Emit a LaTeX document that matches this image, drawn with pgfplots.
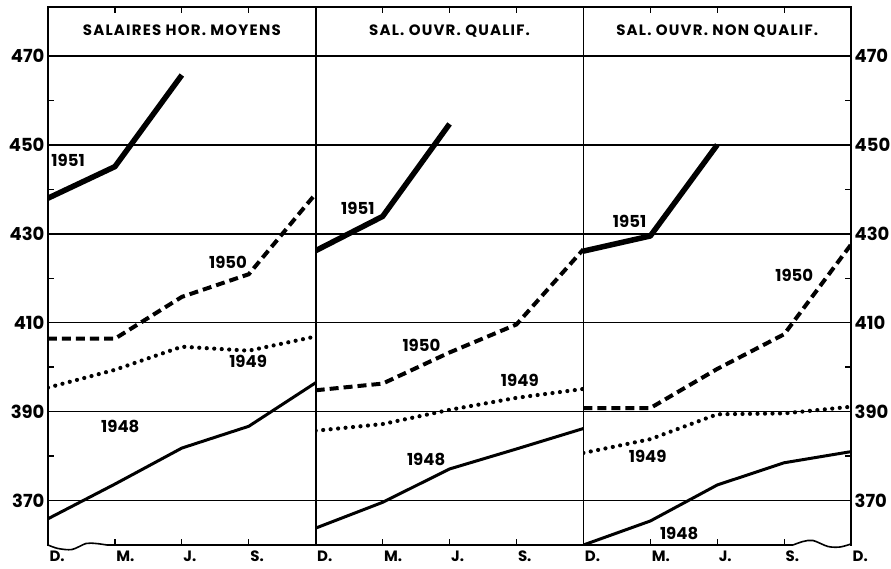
\documentclass[border=0pt]{standalone}
\usepackage{fontspec}
\setmainfont{Poppins}
\usepackage{pgfplots}
\pgfplotsset{compat=1.18}

\pgfplotsset{
  panel/.style={
    scale only axis, width=267.7pt, height=538pt,
    xmin=0, xmax=4, ymin=360, ymax=481,
    xtick={0,1,2,3,4}, xticklabels={D.,M.,J.,S.,{}},
    ytick={370,390,...,470}, ymajorgrids,
    grid style={black, line width=1.5pt},
    axis line style={line width=1.6pt},
    tick align=inside, major tick length=6pt, minor tick length=6pt,
    tick style={black, line width=1.3pt},
    /pgf/number format/assume math mode=true,
    yticklabel style={font=\bfseries\fontsize{18}{18}\selectfont},
    xticklabel style={font=\bfseries\fontsize{15}{15}\selectfont,
      anchor=north west, xshift=-2pt, yshift=-2pt},
  },
  y1951/.style={black, line width=5.5pt, line join=round},
  y1950/.style={black, line width=4pt, dash pattern=on 9pt off 5pt},
  y1949/.style={black, line width=4.2pt, line cap=round, dash pattern=on 0pt off 7.5pt},
  y1948/.style={black, line width=3pt, line join=round},
}
\newcommand{\yr}{\bfseries\fontsize{16.5}{17}\selectfont}
\newcommand{\hd}{\bfseries\fontsize{15}{15}\selectfont\addfontfeatures{LetterSpace=8}}

\begin{document}
\begin{tikzpicture}
\path[use as bounding box] (-48pt,-23pt) rectangle (843pt,545pt);

% salaires horaires moyens
\begin{axis}[panel, at={(0pt,0pt)}, anchor=south west,
  ytick pos=left, minor ytick={380,400,...,460}]
\addplot[y1951] coordinates {(0,438.0) (1,445.1) (2,465.7)};
\addplot[y1950] coordinates {(0,406.4) (1,406.4) (2,415.8) (3,420.9) (4,439.0)};
\addplot[y1949] coordinates {(0,395.4) (1,399.4) (2,404.6) (3,403.7) (4,406.9)};
\addplot[y1948] coordinates {(0,365.9) (1,373.7) (2,381.8) (3,386.7) (4,396.5)};
\node[font=\hd] at (axis cs:2,475.7) {SALAIRES HOR. MOYENS};
\node[font=\yr] at (axis cs:0.30,446.6) {1951};
\node[font=\yr] at (axis cs:2.69,423.6) {1950};
\node[font=\yr] at (axis cs:2.99,401.2) {1949};
\node[font=\yr] at (axis cs:1.08,386.7) {1948};
\end{axis}

% ouvriers qualifies
\begin{axis}[panel, at={(267.7pt,0pt)}, anchor=south west, yticklabels={}]
\addplot[y1951] coordinates {(0,426.2) (1,433.9) (2,454.7)};
\addplot[y1950] coordinates {(0,394.8) (1,396.3) (2,403.3) (3,409.6) (4,426.5)};
\addplot[y1949] coordinates {(0,385.7) (1,387.2) (2,390.4) (3,393.1) (4,395.1)};
\addplot[y1948] coordinates {(0,363.8) (1,369.6) (2,377.1) (3,381.6) (4,386.2)};
\node[font=\hd] at (axis cs:2,475.7) {SAL. OUVR. QUALIF.};
\node[font=\yr] at (axis cs:0.63,435.8) {1951};
\node[font=\yr] at (axis cs:1.58,404.8) {1950};
\node[font=\yr] at (axis cs:3.05,397.0) {1949};
\node[font=\yr] at (axis cs:1.65,379.3) {1948};
\end{axis}

% ouvriers non qualifies
\begin{axis}[panel, at={(535.4pt,0pt)}, anchor=south west,
  xticklabels={D.,M.,J.,S.,D.},
  ytick pos=right, yticklabel pos=right, minor ytick={380,400,...,460}]
\addplot[y1951] coordinates {(0,426.1) (1,429.5) (2,450.0)};
\addplot[y1950] coordinates {(0,390.8) (1,390.8) (2,399.6) (3,407.4) (4,427.6)};
\addplot[y1949] coordinates {(0,380.7) (1,383.8) (2,389.4) (3,389.6) (4,391.1)};
\addplot[y1948] coordinates {(0,360.0) (1,365.4) (2,373.5) (3,378.5) (4,381.0)};
\node[font=\hd] at (axis cs:2,475.7) {SAL. OUVR. NON QUALIF.};
\node[font=\yr] at (axis cs:0.69,432.8) {1951};
\node[font=\yr] at (axis cs:3.15,420.7) {1950};
\node[font=\yr] at (axis cs:0.96,380.0) {1949};
\node[font=\yr] at (axis cs:1.43,362.7) {1948};
\end{axis}

% coupures de l'axe
\draw[white, line width=2.8pt] (1pt,0) -- (59pt,0);
\draw[line width=1.6pt] plot[smooth] coordinates {(0,0) (10pt,-3.5pt) (24pt,-4.5pt) (38pt,1.5pt) (48pt,1.5pt) (59pt,0)};
\draw[white, line width=2.8pt] (745pt,0) -- (802pt,0);
\draw[line width=1.6pt] plot[smooth] coordinates {(745pt,0) (755pt,3.5pt) (765pt,4.5pt) (780pt,-1.5pt) (792pt,-2pt) (803pt,1pt)};
\end{tikzpicture}
\end{document}
